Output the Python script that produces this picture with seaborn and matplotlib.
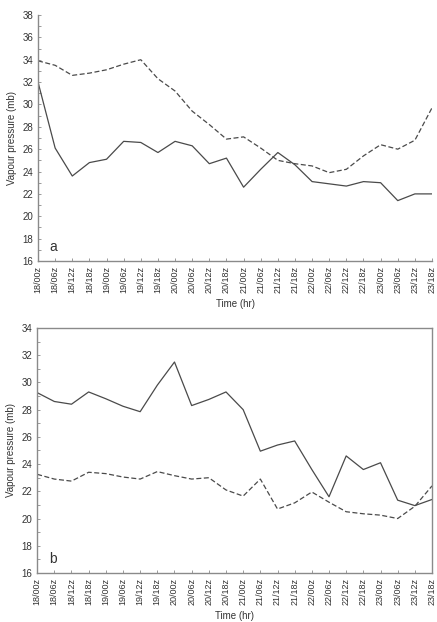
import seaborn as sns
import pandas as pd
from matplotlib import pyplot as plt
from matplotlib.ticker import MultipleLocator

# time labels, 6-hourly
times = ["18/00z", "18/06z", "18/12z", "18/18z", "19/00z", "19/06z", "19/12z", "19/18z",
         "20/00z", "20/06z", "20/12z", "20/18z", "21/00z", "21/06z", "21/12z", "21/18z",
         "22/00z", "22/06z", "22/12z", "22/18z", "23/00z", "23/06z", "23/12z", "23/18z"]

# panel a
a_solid = [32.0, 26.1, 23.6, 24.8, 25.1, 26.7, 26.6, 25.7, 26.7, 26.3, 24.7, 25.2,
           22.6, 24.2, 25.7, 24.6, 23.1, 22.9, 22.7, 23.1, 23.0, 21.4, 22.0, 22.0]
a_dashed = [33.9, 33.5, 32.6, 32.8, 33.1, 33.6, 34.0, 32.3, 31.2, 29.4, 28.2, 26.9,
            27.1, 26.1, 25.0, 24.7, 24.5, 23.9, 24.2, 25.4, 26.4, 26.0, 26.8, 29.7]

# panel b
b_solid = [29.25, 28.6, 28.4, 29.3, 28.8, 28.25, 27.85, 29.8, 31.5, 28.3, 28.75, 29.3,
           28.0, 24.95, 25.4, 25.7, 23.6, 21.6, 24.6, 23.6, 24.1, 21.35, 20.95, 21.4]
b_dashed = [23.25, 22.9, 22.75, 23.4, 23.3, 23.05, 22.9, 23.45, 23.15, 22.9, 23.0, 22.1,
            21.65, 22.9, 20.7, 21.15, 21.95, 21.2, 20.5, 20.35, 20.25, 20.0, 20.9, 22.4]

sns.set_style("ticks")
plt.rcParams['font.family'] = ['Liberation Sans', 'DejaVu Sans']

fig = plt.figure(figsize=(4.37, 6.22), dpi=100)
ax1 = fig.add_axes([0.087, 0.5804, 0.9016, 0.3955])
ax2 = fig.add_axes([0.085, 0.0788, 0.9036, 0.3939])

lc = "#4a4a4a"
sc = "#8a8a8a"


def panel(ax, solid, dashed, ylim, letter, box):
    df = pd.DataFrame({"t": range(len(times)), "solid": solid, "dashed": dashed})
    sns.lineplot(data=df, x="t", y="solid", ax=ax, color=lc, lw=0.9)
    sns.lineplot(data=df, x="t", y="dashed", ax=ax, color=lc, lw=0.9, linestyle=(0, (4, 2)))
    ax.set_xlim(0, len(times) - 1)
    ax.set_ylim(*ylim)
    ax.set_xticks(range(len(times)))
    ax.set_xticklabels(times, rotation=90, fontsize=6.5, color="#333333")
    ax.yaxis.set_major_locator(MultipleLocator(2))
    ax.yaxis.set_minor_locator(MultipleLocator(1))
    ax.tick_params(axis="y", labelsize=7, colors="#333333")
    ax.tick_params(which="both", direction="in", length=2.5, width=0.6, color=sc)
    ax.tick_params(which="minor", length=1.8)
    ax.set_xlabel("Time (hr)", fontsize=7, color="#333333", labelpad=4)
    ax.set_ylabel("Vapour pressure (mb)", fontsize=7, color="#333333", labelpad=4)
    ax.text(0.03, 0.04, letter, transform=ax.transAxes, fontsize=10, color="#333333")
    for s in ax.spines.values():
        s.set_color(sc)
        s.set_linewidth(1.0)
    if not box:
        sns.despine(ax=ax)


panel(ax1, a_solid, a_dashed, (16, 38), "a", False)
panel(ax2, b_solid, b_dashed, (16, 34), "b", True)

fig.savefig("out.png", dpi=100)
